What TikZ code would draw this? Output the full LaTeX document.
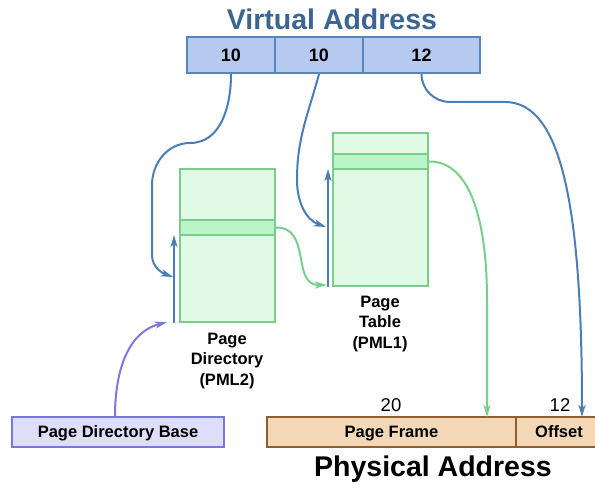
\documentclass[tikz,border=0pt]{standalone}
\usepackage{fontspec}
\setmainfont{Liberation Sans}
\usetikzlibrary{arrows.meta}
\definecolor{vafill}{RGB}{182,201,238}
\definecolor{vadraw}{RGB}{88,134,186}
\definecolor{titleblue}{RGB}{61,101,145}
\definecolor{arrblue}{RGB}{74,126,181}
\definecolor{gfill}{RGB}{225,250,230}
\definecolor{gstripe}{RGB}{185,245,200}
\definecolor{gdraw}{RGB}{122,206,138}
\definecolor{garrow}{RGB}{118,208,140}
\definecolor{pfill}{RGB}{222,222,250}
\definecolor{pdraw}{RGB}{120,120,220}
\definecolor{parrow}{RGB}{125,120,222}
\definecolor{phfill}{RGB}{243,215,182}
\definecolor{phdraw}{RGB}{140,95,50}
\tikzset{
  vabox/.style={draw=vadraw,fill=vafill,line width=2pt,minimum height=36pt,inner sep=0pt,text depth=0pt,
    font=\fontsize{18}{20}\selectfont\bfseries},
  tblbox/.style={draw=gdraw,fill=gfill,line width=2pt,minimum width=95pt,minimum height=153pt,inner sep=0pt},
  tblstripe/.style={draw=gdraw,fill=gstripe,line width=2pt,minimum width=95pt,minimum height=15pt,inner sep=0pt},
  phbox/.style={draw=phdraw,fill=phfill,line width=2pt,minimum height=30pt,inner sep=0pt,text depth=0pt,
    font=\fontsize{16.5}{20}\selectfont\bfseries},
  lbl/.style={align=center,inner sep=0pt,font=\fontsize{16.5}{20.5}\selectfont\bfseries},
  bigtitle/.style={inner sep=0pt,font=\fontsize{28.5}{32}\selectfont\bfseries},
  numlbl/.style={inner sep=0pt,font=\fontsize{18.5}{20}\selectfont},
  tip/.style={-{Stealth[length=12pt,width=7pt,inset=3pt]}},
  barrow/.style={tip,draw=arrblue,line width=2pt},
  garr/.style={tip,draw=garrow,line width=2pt},
  parr/.style={tip,draw=parrow,line width=2pt},
}
\begin{document}
\begin{tikzpicture}[x=1pt,y=1pt]
\useasboundingbox (0,0) rectangle (595,-489);
% title
\node[bigtitle,text=titleblue] (vatitle) at (332,-19) {Virtual Address};
% virtual address fields
\node[vabox,minimum width=88pt] (va1) at (231,-55) {10};
\node[vabox,minimum width=88pt] (va2) at (319,-55) {10};
\node[vabox,minimum width=117pt] (va3) at (421.5,-55) {12};
% page directory
\node[tblbox] (pd) at (227.5,-245.5) {};
\node[tblstripe] (pds) at (227.5,-227.5) {};
\node[lbl] (pdlbl) at (227,-361) {Page\\Directory\\(PML2)};
% page table
\node[tblbox] (pt) at (380.5,-209.5) {};
\node[tblstripe] (pts) at (380.5,-161.5) {};
\node[lbl] (ptlbl) at (380,-324) {Page\\Table\\(PML1)};
% page directory base
\node[phbox,draw=pdraw,fill=pfill,minimum width=212pt] (pdb) at (118,-432) {Page Directory Base};
% physical address
\begin{scope}
\clip (0,0) rectangle (595,-489);
\node[phbox,minimum width=249pt] (pf) at (391.5,-432) {Page Frame};
\node[phbox,minimum width=86pt] (off) at (559,-432) {Offset};
\end{scope}
\node[numlbl] (n20) at (391,-405) {20};
\node[numlbl] (n12) at (560,-405) {12};
\node[bigtitle] (phtitle) at (433,-469) {Physical Address};
% coordinates
\coordinate (pdin) at (173,-277);
\coordinate (ptin) at (326,-227);
\coordinate (ptin2) at (327,-285);
\coordinate (pdbase) at (167,-322);
\coordinate (pfin) at (487,-417);
\coordinate (offin) at (582,-417);
% vertical index arrows
\draw[barrow] ([xshift=-5pt]pd.south west) -- ([xshift=-5pt,yshift=1pt]pds.south west);
\draw[barrow] ([xshift=-4pt]pt.south west) -- ([xshift=-4pt,yshift=1pt]pts.south west);
% blue connectors
\draw[barrow] (va1.south) to[out=-90,in=0] (190,-143) to[out=180,in=90] (152,-185) -- (152,-255) to[out=-90,in=160] (pdin);
\draw[barrow] (va2.south) to[out=-105,in=90] (297,-180) to[out=-90,in=160] (ptin);
\draw[barrow] (va3.south) to[out=-90,in=180] (450,-102) -- (505,-102) .. controls (560,-102) and (582,-200) .. (offin);
% green connectors
\draw[garr] (pds.east) to[out=0,in=180,looseness=1.2] (ptin2);
\draw[garr] (pts.east) .. controls (470,-161) and (487,-220) .. (487,-300) -- (pfin);
% purple connector
\draw[parr] ([xshift=-3pt]pdb.north) to[out=90,in=195] (pdbase);
\end{tikzpicture}
\end{document}
